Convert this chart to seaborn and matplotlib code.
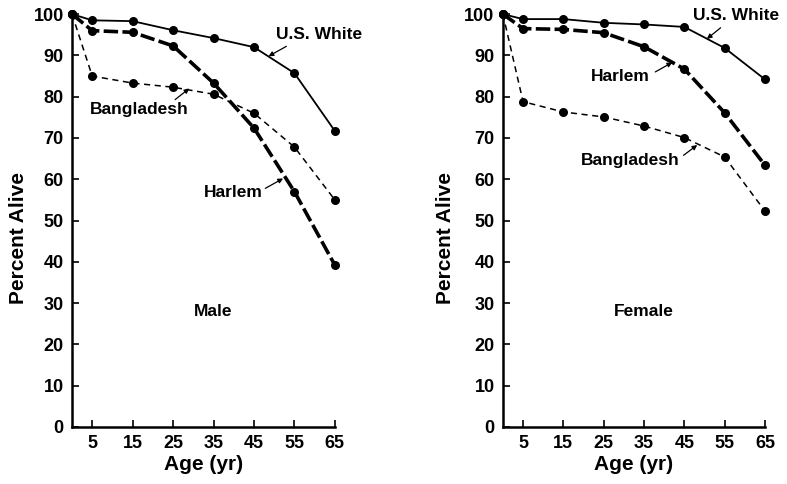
import matplotlib
matplotlib.use("Agg")
import matplotlib.pyplot as plt
import seaborn as sns
import pandas as pd

# ages at which survival is reported
ages = [0, 5, 15, 25, 35, 45, 55, 65]
tick_ages = [5, 15, 25, 35, 45, 55, 65]
y_ticks = [0, 10, 20, 30, 40, 50, 60, 70, 80, 90, 100]

# percent alive
male_white = [100, 98.5, 98.3, 96.1, 94.2, 92.0, 85.7, 71.7]
male_harlem = [100, 96.0, 95.6, 92.3, 83.3, 72.4, 57.0, 39.2]
male_bangladesh = [100, 85.0, 83.3, 82.3, 80.6, 76.0, 67.8, 55.0]

female_white = [100, 98.8, 98.8, 97.9, 97.5, 96.9, 91.8, 84.2]
female_harlem = [100, 96.5, 96.3, 95.5, 92.1, 86.7, 76.1, 63.4]
female_bangladesh = [100, 78.8, 76.3, 75.1, 72.9, 70.1, 65.4, 52.3]

sns.set_theme(style="ticks")
plt.rcParams['font.family'] = ['Liberation Sans', 'DejaVu Sans']
plt.rcParams['font.weight'] = 'bold'
plt.rcParams['axes.labelweight'] = 'bold'
plt.rcParams['text.color'] = 'black'
plt.rcParams['axes.labelcolor'] = 'black'

fig = plt.figure(figsize=(7.87, 4.84), dpi=100)
ax_m = fig.add_axes([0.0915, 0.1178, 0.334, 0.853])
ax_f = fig.add_axes([0.639, 0.1178, 0.333, 0.853])

styles = {
    'U.S. White': dict(linestyle='-', linewidth=1.3),
    'Harlem': dict(linestyle=(0, (4, 1.2)), linewidth=2.6),
    'Bangladesh': dict(linestyle=(0, (4, 3)), linewidth=1.1),
}


def draw_panel(ax, white, harlem, bangla, sex, notes, ylab_x):
    df = pd.DataFrame({
        'age': ages * 3,
        'pct': white + harlem + bangla,
        'group': ['U.S. White'] * 8 + ['Harlem'] * 8 + ['Bangladesh'] * 8,
    })
    for grp, sub in df.groupby('group'):
        sns.lineplot(data=sub, x='age', y='pct', ax=ax, color='black',
                     marker='o', markersize=6.5, markeredgewidth=0,
                     clip_on=False, **styles[grp])
    ax.set_xlim(0, 65)
    ax.set_ylim(0, 100)
    ax.set_xticks(tick_ages)
    ax.set_yticks(y_ticks)
    ax.tick_params(direction='in', length=5, width=1.2, labelsize=13,
                   colors='black', pad=6)
    for s in ['top', 'right']:
        ax.spines[s].set_visible(False)
    for s in ['left', 'bottom']:
        ax.spines[s].set_linewidth(1.8)
        ax.spines[s].set_color('black')
    ax.set_xlabel('Age (yr)', fontsize=15, labelpad=2)
    ax.set_ylabel('Percent Alive', fontsize=15)
    ax.yaxis.set_label_coords(ylab_x, 0.458)
    ax.text(35, 28, sex, ha='center', va='center', fontsize=12.5)
    for label, txt_xy, tip_xy, start_xy in notes:
        ax.text(txt_xy[0], txt_xy[1], label, ha='center', va='center',
                fontsize=12.5, clip_on=False)
        ax.annotate('', xy=tip_xy, xytext=start_xy,
                    arrowprops=dict(arrowstyle='-|>', color='black', lw=0.9,
                                    mutation_scale=7, shrinkA=0, shrinkB=0),
                    annotation_clip=False)


draw_panel(ax_m, male_white, male_harlem, male_bangladesh, 'Male', [
    ('U.S. White', (61, 95), (48.6, 89.8), (53, 92.2)),
    ('Bangladesh', (16.7, 76.8), (29.0, 82.0), (25.5, 79.3)),
    ('Harlem', (40, 56.7), (52.2, 60.2), (47.8, 57.8)),
], -0.167)
draw_panel(ax_f, female_white, female_harlem, female_bangladesh, 'Female', [
    ('U.S. White', (57.8, 99.6), (50.6, 94.0), (54.0, 96.7)),
    ('Harlem', (29, 85), (42.0, 88.3), (37.8, 86.0)),
    ('Bangladesh', (31.5, 64.6), (48.2, 68.3), (44.8, 65.8)),
], -0.183)

fig.savefig('out.png', dpi=100)
